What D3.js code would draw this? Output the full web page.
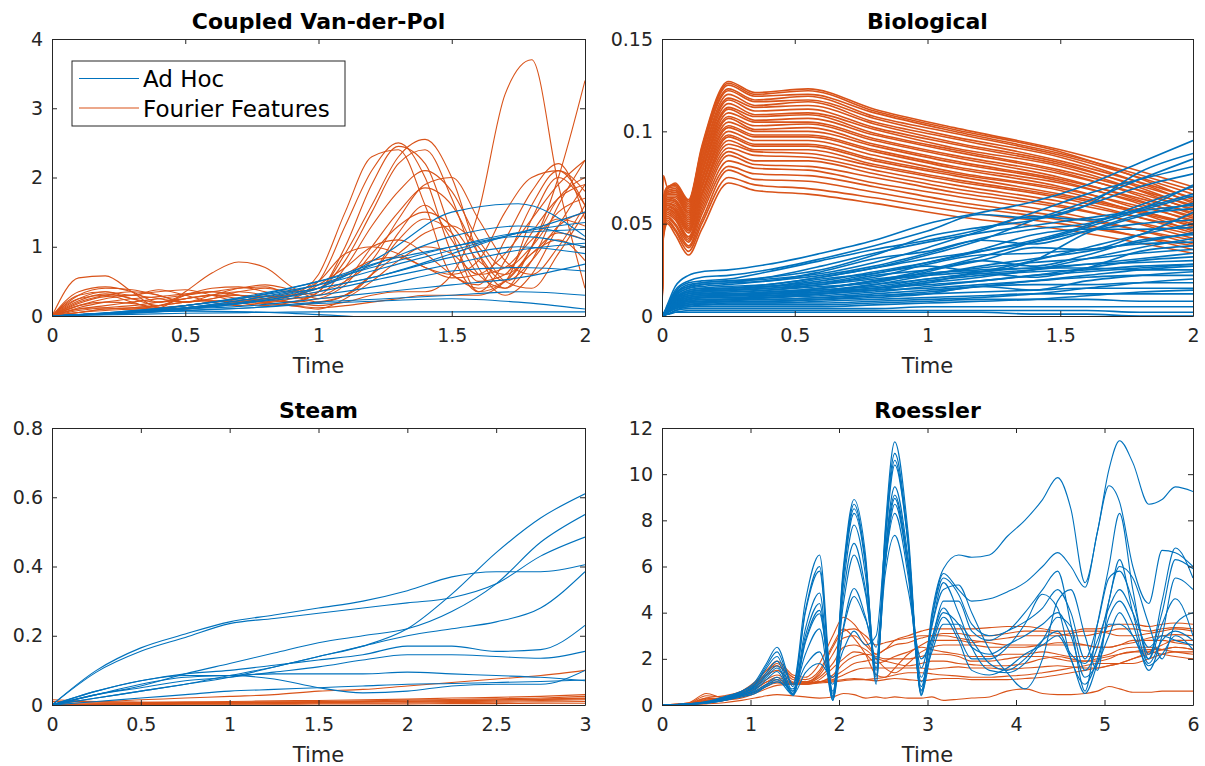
<!DOCTYPE html>
<html>
<head>
<meta charset="utf-8">
<script src="https://cdn.jsdelivr.net/npm/d3@7"></script>
<style>
body { margin: 0; background: #fff; }
text { font-family: "DejaVu Sans", sans-serif; }
</style>
</head>
<body>
<svg id="fig" width="1205" height="766"></svg>
<script>
var blue = "#0072BD", orange = "#D95319", axisColor = "#262626";

// ---------- Coupled Van-der-Pol ----------
var vdpTimeFF = [0,0.1,0.2,0.3,0.4,0.5,0.6,0.7,0.8,0.9,1,1.1,1.2,1.3,1.4,1.5,1.6,1.7,1.8,1.9,2];
var vdpFourier = [
  [0,0.55,0.58,0.35,0.12,0.35,0.62,0.78,0.7,0.42,0.25,0.3,0.6,1.2,1.6,1.1,0.5,0.6,1.2,1.7,1.9],
  [0,0.35,0.42,0.35,0.2,0.25,0.3,0.3,0.25,0.2,0.35,1.0,1.9,2.45,2.2,1.2,0.35,0.5,1.4,2.0,1.6],
  [0,0.3,0.4,0.38,0.3,0.2,0.25,0.3,0.28,0.3,0.5,1.3,2.1,2.5,2.0,0.9,0.35,0.8,1.6,2.1,1.8],
  [0,0.25,0.35,0.3,0.38,0.3,0.2,0.15,0.2,0.3,0.6,1.5,2.3,2.4,1.6,0.6,0.45,1.1,1.8,2.2,1.4],
  [0,0.2,0.3,0.35,0.3,0.2,0.25,0.35,0.4,0.35,0.4,0.9,1.6,2.3,2.55,2.0,0.9,0.4,0.8,1.6,2.25],
  [0,0.15,0.25,0.3,0.35,0.38,0.3,0.2,0.15,0.2,0.35,0.8,1.5,2.2,2.4,1.7,0.7,0.3,0.6,1.3,1.9],
  [0,0.22,0.32,0.25,0.15,0.3,0.4,0.42,0.35,0.25,0.3,0.7,1.3,1.8,2.1,1.8,1.1,0.7,1.0,1.5,1.7],
  [0,0.18,0.28,0.3,0.25,0.2,0.3,0.4,0.45,0.38,0.3,0.5,1.0,1.5,1.85,1.6,0.9,0.5,0.8,1.3,1.5],
  [0,0.12,0.2,0.25,0.28,0.32,0.35,0.3,0.25,0.2,0.25,0.45,0.9,1.3,1.5,1.3,0.8,0.6,0.9,1.2,1.1],
  [0,0.1,0.15,0.2,0.25,0.3,0.35,0.4,0.42,0.3,0.2,0.3,0.6,0.9,1.2,1.3,1.0,0.5,0.4,0.9,1.5],
  [0,0.08,0.12,0.15,0.2,0.25,0.3,0.35,0.3,0.2,0.15,0.2,0.3,0.35,0.35,0.6,1.5,3.2,3.7,1.9,0.4],
  [0,0.05,0.1,0.12,0.15,0.2,0.22,0.2,0.18,0.15,0.12,0.15,0.2,0.25,0.3,0.3,0.3,0.5,1.0,2.0,3.4],
  [0,0.05,0.1,0.12,0.15,0.2,0.22,0.2,0.25,0.35,0.5,0.9,1.0,0.9,0.7,0.6,0.8,1.5,2.0,2.1,1.6],
  [0,0.3,0.35,0.25,0.2,0.3,0.35,0.3,0.2,0.15,0.2,0.3,0.6,1.1,1.4,1.2,0.6,0.4,1.0,1.7,2.0],
  [0,0.25,0.3,0.2,0.1,0.15,0.2,0.25,0.2,0.15,0.1,0.25,0.5,0.8,1.0,0.9,0.6,0.7,1.1,1.4,1.3],
  [0,0.1,0.12,0.1,0.15,0.25,0.3,0.25,0.2,0.25,0.45,0.7,1.0,1.1,0.9,0.6,0.4,0.5,0.9,1.1,0.8],
  [0,0.15,0.2,0.18,0.12,0.1,0.15,0.2,0.25,0.3,0.35,0.5,0.8,1.4,1.9,2.0,1.4,0.8,0.6,1.0,1.6],
  [0,0.05,0.08,0.1,0.12,0.15,0.2,0.22,0.25,0.3,0.4,0.6,0.8,0.85,0.7,0.55,0.6,0.9,1.4,1.9,2.25]
];
var vdpTimeAH = [0,0.25,0.5,0.75,1,1.25,1.5,1.75,2];
var vdpAdHoc = [
  [0,0.04,0.1,0.2,0.4,0.9,1.5,1.62,1.15],
  [0,0.05,0.12,0.25,0.45,0.8,1.15,1.3,1.1],
  [0,0.05,0.15,0.28,0.5,0.75,1.0,1.2,1.25],
  [0,0.06,0.15,0.28,0.45,0.7,0.95,1.15,1.0],
  [0,0.05,0.12,0.22,0.4,0.6,0.85,1.0,0.9],
  [0,0.04,0.1,0.2,0.35,0.55,0.75,0.95,1.05],
  [0,0.05,0.12,0.2,0.3,0.45,0.65,0.7,0.65],
  [0,0.05,0.1,0.15,0.25,0.35,0.45,0.55,0.75],
  [0,0.04,0.08,0.12,0.2,0.25,0.3,0.35,0.3],
  [0,0.03,0.08,0.12,0.18,0.22,0.25,0.2,0.1],
  [0,0.02,0.04,0.05,0.06,0.06,0.06,0.06,0.06],
  [0,0.04,0.07,0.06,0.02,-0.03,-0.05,-0.05,-0.05],
  [0,0.06,0.15,0.3,0.5,0.8,1.0,1.2,1.5],
  [0,0.05,0.12,0.25,0.4,0.6,0.9,1.2,1.35]
];

// ---------- Biological ----------
var bioTimeFF = [0,0.005,0.02,0.05,0.1,0.15,0.25,0.35,0.55,0.8,1.1,1.5,2.0];
var bioFourier = [
  [0,.042,.050,.044,.033,.047,.072,.068,.066,.061,.054,.047,.034],
  [0,.043,.051,.046,.035,.050,.075,.071,.069,.064,.057,.050,.038],
  [0,.045,.052,.047,.037,.052,.079,.074,.073,.067,.060,.052,.036],
  [0,.046,.053,.049,.038,.055,.081,.077,.076,.070,.062,.054,.041],
  [0,.047,.054,.050,.040,.057,.084,.080,.079,.072,.065,.056,.039],
  [0,.048,.055,.052,.041,.059,.087,.082,.081,.075,.067,.059,.044],
  [0,.049,.056,.053,.042,.061,.089,.084,.084,.077,.069,.060,.042],
  [0,.050,.057,.054,.043,.063,.091,.087,.086,.079,.071,.062,.047],
  [0,.051,.058,.055,.045,.065,.093,.089,.088,.081,.073,.064,.045],
  [0,.051,.058,.056,.046,.066,.095,.090,.090,.082,.074,.065,.049],
  [0,.052,.059,.057,.047,.067,.097,.092,.092,.084,.076,.066,.050],
  [0,.053,.060,.057,.047,.069,.098,.093,.093,.085,.077,.068,.046],
  [0,.053,.060,.058,.048,.070,.100,.095,.095,.087,.078,.069,.052],
  [0,.054,.061,.059,.049,.071,.102,.097,.097,.089,.080,.070,.048],
  [0,.055,.061,.060,.050,.073,.103,.098,.098,.090,.081,.072,.054],
  [0,.055,.062,.061,.051,.074,.105,.100,.100,.092,.083,.073,.051],
  [0,.056,.063,.062,.052,.075,.107,.101,.102,.093,.084,.074,.056],
  [0,.057,.063,.062,.053,.077,.108,.103,.104,.095,.086,.075,.053],
  [0,.057,.064,.063,.054,.078,.110,.105,.105,.096,.087,.077,.058],
  [0,.058,.064,.064,.055,.079,.112,.106,.107,.098,.089,.078,.055],
  [0,.059,.065,.065,.056,.081,.113,.108,.109,.099,.090,.079,.060],
  [0,.059,.066,.066,.056,.082,.115,.109,.110,.101,.091,.081,.057],
  [0,.060,.066,.067,.057,.083,.117,.111,.112,.102,.093,.082,.062],
  [0,.060,.067,.068,.058,.085,.118,.113,.114,.104,.094,.083,.059],
  [0,.061,.067,.068,.059,.086,.120,.114,.116,.105,.096,.084,.064],
  [0,.062,.068,.069,.060,.088,.122,.116,.117,.107,.097,.086,.061],
  [0,.062,.069,.070,.061,.089,.123,.117,.119,.108,.099,.087,.066],
  [0,.063,.069,.071,.062,.090,.125,.119,.120,.110,.100,.088,.068],
  [0,.064,.070,.071,.062,.091,.126,.120,.122,.111,.101,.089,.063],
  [0,.076,.070,.072,.063,.092,.127,.121,.123,.112,.102,.090,.070]
];
var bioTimeAH = [0,0.005,0.02,0.05,0.1,0.15,0.25,0.4,0.6,0.8,1.0,1.2,1.4,1.6,1.8,2.0];
var bioAdHoc = [
  [0,.001,.006,.016,.022,.024,.025,.028,.034,.041,.050,.056,.062,.071,.083,.095],
  [0,.001,.005,.014,.019,.021,.022,.025,.031,.038,.046,.055,.053,.060,.078,.088],
  [0,.001,.005,.013,.018,.019,.020,.024,.030,.036,.041,.047,.056,.066,.074,.081],
  [0,.001,.005,.012,.017,.018,.019,.021,.025,.033,.043,.048,.052,.060,.070,.077],
  [0,.001,.004,.012,.016,.018,.019,.020,.023,.029,.037,.046,.054,.052,.058,.071],
  [0,.001,.004,.011,.015,.017,.018,.019,.024,.031,.035,.041,.039,.046,.055,.058],
  [0,.001,.004,.011,.015,.016,.017,.019,.022,.027,.034,.042,.047,.050,.058,.066],
  [0,.001,.004,.010,.014,.015,.016,.017,.021,.026,.031,.035,.040,.046,.050,.052],
  [0,.001,.004,.010,.014,.015,.015,.016,.020,.023,.027,.024,.030,.045,.054,.061],
  [0,.001,.004,.010,.013,.014,.015,.016,.018,.023,.029,.036,.044,.047,.047,.048],
  [0,.001,.003,.009,.013,.014,.014,.015,.018,.021,.028,.033,.034,.036,.039,.040],
  [0,.001,.003,.009,.012,.013,.014,.015,.017,.022,.025,.030,.037,.036,.044,.056],
  [0,.001,.003,.009,.012,.013,.013,.014,.017,.020,.023,.026,.029,.031,.034,.036],
  [0,.001,.003,.008,.011,.012,.013,.014,.016,.018,.024,.030,.027,.033,.041,.044],
  [0,.001,.003,.008,.011,.012,.012,.013,.015,.019,.023,.025,.026,.028,.029,.030],
  [0,.001,.003,.008,.011,.012,.012,.013,.014,.017,.020,.024,.030,.037,.044,.050],
  [0,.001,.003,.008,.010,.011,.012,.012,.014,.016,.020,.023,.025,.028,.031,.034],
  [0,.001,.003,.007,.010,.011,.011,.012,.015,.019,.022,.024,.026,.026,.025,.025],
  [0,.001,.003,.007,.010,.011,.011,.012,.013,.015,.018,.021,.025,.031,.037,.042],
  [0,.001,.003,.007,.009,.010,.011,.011,.013,.015,.017,.019,.022,.024,.026,.028],
  [0,.001,.002,.007,.009,.010,.010,.011,.012,.014,.018,.023,.021,.026,.035,.038],
  [0,.001,.002,.006,.009,.010,.010,.010,.012,.014,.015,.017,.019,.021,.022,.022],
  [0,.001,.002,.006,.008,.009,.009,.010,.011,.013,.016,.019,.022,.026,.030,.032],
  [0,.001,.002,.006,.008,.009,.009,.009,.010,.012,.014,.016,.017,.017,.018,.018],
  [0,.001,.002,.005,.008,.008,.009,.009,.010,.011,.013,.016,.019,.022,.025,.027],
  [0,.001,.002,.005,.007,.008,.008,.008,.009,.011,.012,.013,.014,.015,.015,.015],
  [0,.001,.002,.005,.007,.007,.008,.008,.009,.010,.012,.016,.014,.019,.022,.024],
  [0,.001,.002,.005,.006,.007,.007,.007,.008,.009,.010,.011,.012,.012,.012,.012],
  [0,.001,.002,.004,.006,.006,.007,.007,.007,.008,.009,.010,.012,.015,.018,.020],
  [0,.001,.002,.004,.005,.006,.006,.006,.006,.007,.008,.009,.009,.009,.008,.008],
  [0,.001,.001,.003,.005,.005,.005,.005,.005,.006,.007,.008,.009,.011,.013,.014],
  [0,.001,.001,.003,.004,.004,.004,.004,.004,.004,.005,.005,.005,.005,.005,.005],
  [0,.001,.001,.002,.003,.003,.003,.003,.003,.003,.003,.003,.003,.003,.002,.002],
  [0,.000,.001,.002,.002,.002,.002,.002,.002,.002,.002,.002,.001,.001,.000,.000],
  [0,.001,.004,.012,.016,.017,.018,.021,.027,.034,.040,.045,.049,.053,.057,.060],
  [0,.001,.003,.010,.013,.014,.015,.017,.021,.026,.033,.041,.052,.062,.074,.085],
  [0,.001,.003,.009,.012,.013,.014,.016,.019,.024,.029,.035,.041,.049,.060,.070],
  [0,.001,.002,.006,.009,.010,.011,.013,.015,.019,.025,.032,.040,.048,.057,.065],
  [0,.001,.002,.005,.007,.008,.009,.011,.013,.017,.022,.027,.031,.035,.040,.045],
  [0,.001,.002,.004,.006,.007,.008,.010,.012,.015,.019,.022,.024,.025,.027,.028]
];

// ---------- Steam ----------
var steamTime = [0,0.25,0.5,0.75,1,1.25,1.5,1.75,2,2.25,2.5,2.75,3];
var steamAdHoc = [
  [0,0.1,0.165,0.205,0.24,0.26,0.28,0.3,0.33,0.37,0.385,0.385,0.405],
  [0,0.095,0.155,0.195,0.235,0.25,0.265,0.28,0.295,0.31,0.35,0.43,0.485],
  [0,0.02,0.04,0.06,0.085,0.11,0.14,0.17,0.22,0.32,0.44,0.54,0.61],
  [0,0.03,0.055,0.09,0.12,0.15,0.18,0.2,0.22,0.27,0.35,0.47,0.55],
  [0,0.02,0.04,0.06,0.08,0.11,0.14,0.17,0.2,0.22,0.24,0.28,0.385],
  [0,0.04,0.07,0.09,0.1,0.115,0.13,0.145,0.17,0.17,0.155,0.16,0.23],
  [0,0.03,0.05,0.07,0.08,0.095,0.11,0.13,0.145,0.145,0.14,0.135,0.155],
  [0,0.04,0.07,0.085,0.085,0.075,0.05,0.035,0.04,0.055,0.06,0.06,0.1],
  [0,0.03,0.06,0.08,0.085,0.09,0.09,0.09,0.095,0.09,0.085,0.08,0.07],
  [0,0.01,0.02,0.03,0.04,0.045,0.05,0.055,0.06,0.062,0.065,0.068,0.072]
];
var steamFourier = [
  [0.01,0.01,0.015,0.02,0.025,0.03,0.04,0.045,0.055,0.065,0.075,0.085,0.1],
  [0.01,0.008,0.008,0.009,0.01,0.012,0.013,0.015,0.017,0.02,0.022,0.025,0.03],
  [0.005,0.005,0.006,0.007,0.008,0.009,0.01,0.012,0.014,0.016,0.018,0.02,0.025],
  [0,0.003,0.004,0.005,0.006,0.007,0.008,0.009,0.011,0.013,0.015,0.017,0.02],
  [0,0.002,0.003,0.004,0.005,0.006,0.007,0.008,0.009,0.01,0.011,0.013,0.015],
  [0,0.002,0.002,0.003,0.003,0.004,0.005,0.005,0.006,0.007,0.008,0.009,0.01],
  [0,0.001,0.001,0.002,0.002,0.002,0.003,0.003,0.003,0.004,0.004,0.005,0.005],
  [0.015,0.01,0.008,0.007,0.007,0.008,0.009,0.01,0.011,0.012,0.014,0.016,0.018]
];

// ---------- Roessler ----------
var rosTime = [0,0.3,0.5,0.7,0.9,1.05,1.18,1.3,1.48,1.62,1.78,1.93,2.05,2.17,2.3,2.42,2.52,2.63,2.78,2.93,
  3.05,3.18,3.35,3.5,3.7,3.9,4.1,4.3,4.47,4.62,4.78,4.92,5.05,5.17,5.32,5.5,5.65,5.8,6.0];
var rosAdHoc = [
  [0,0.05,0.15,0.35,0.6,1.0,1.8, 2.5,0.9,4.5,6.5,0.5,6.0,8.9,6.5,1.0,7.5,11.4,7.5,0.5, 4.0,5.9,6.5,6.4,6.5,7.3,8.0,8.9,9.85,8.5,5.3,7.5,10.2,11.45,10.5,8.7,8.9,9.45,9.25],
  [0,0.05,0.12,0.3,0.55,0.85,1.6, 2.1,0.6,4.0,5.8,0.3,5.7,8.5,6.2,1.5,7.3,10.9,7.2,0.4, 3.8,5.7,5.0,4.5,4.6,4.9,5.3,6.0,6.6,6.0,5.1,7.5,9.5,8.8,6.0,4.4,6.7,6.6,6.0],
  [0,0.04,0.1,0.3,0.5,0.8,1.4, 1.9,0.5,3.3,4.85,0.2,5.5,8.3,6.0,0.9,7.0,10.6,7.0,0.6, 3.7,5.5,4.8,3.5,3.0,3.2,4.0,5.0,5.8,3.5,0.6,3.5,6.0,8.3,5.0,2.0,4.5,6.8,5.5],
  [0,0.04,0.12,0.25,0.45,0.7,1.3, 1.7,0.45,2.8,4.1,0.4,5.2,7.8,5.6,1.2,6.5,9.45,6.4,0.8, 3.4,5.0,5.2,4.0,2.4,1.4,0.7,2.0,4.5,5.0,3.0,1.5,4.5,6.0,5.5,3.5,2.0,3.5,4.0],
  [0,0.03,0.1,0.25,0.45,0.65,1.1, 1.45,0.4,2.7,3.95,0.6,4.4,6.5,4.8,1.8,6.5,9.1,6.2,1.2, 2.9,4.2,3.0,2.0,2.0,2.5,3.5,4.8,4.2,2.0,0.9,2.0,3.8,4.5,3.5,1.5,3.0,5.5,5.0],
  [0,0.03,0.1,0.2,0.4,0.6,0.9, 1.2,0.6,2.2,3.3,0.25,3.4,5.05,3.8,2.0,6.2,8.95,6.0,1.6, 3.5,5.3,4.0,2.5,1.5,1.4,1.8,2.8,3.8,3.4,1.5,2.5,4.5,6.3,4.0,1.8,2.8,3.2,2.8],
  [0,0.03,0.08,0.2,0.35,0.5,0.8, 1.0,0.7,1.7,2.3,0.9,3.3,4.7,3.7,2.5,6.1,8.7,5.9,0.65, 2.7,4.0,3.5,2.5,2.2,2.6,3.0,3.5,4.0,3.0,1.2,1.8,3.0,4.0,3.0,2.0,3.5,4.6,3.0],
  [0,0.05,0.15,0.35,0.6,0.9,1.7, 2.3,0.8,4.1,6.0,0.35,5.8,8.7,6.2,1.3,6.0,8.3,5.6,1.0, 2.3,3.5,3.5,2.8,1.8,1.5,2.0,2.8,3.2,2.2,1.8,2.8,4.2,5.0,4.0,2.5,3.0,2.8,2.6],
  [0,0.04,0.12,0.3,0.5,0.75,1.2, 1.6,0.5,3.0,4.4,0.2,4.8,7.0,5.0,1.6,5.6,7.35,5.0,2.0, 2.9,4.5,4.5,3.2,2.8,3.2,3.6,4.2,5.0,4.0,2.0,3.5,5.5,5.8,4.5,2.2,4.0,6.3,5.9],
  [0,0.03,0.08,0.2,0.4,0.55,0.85, 1.1,0.45,1.4,1.8,1.2,2.4,3.2,2.6,3.0,7.0,10.4,7.0,0.45, 2.5,3.8,2.8,1.5,1.3,1.6,2.2,2.6,3.0,2.0,0.5,1.8,3.5,3.5,3.0,1.7,2.2,3.0,2.4]
];
var rosFourier = [
  [0,0.05,0.25,0.3,0.6,1.0,1.5, 1.9,1.3,1.2,1.8,3.0,3.8,3.5,2.8,2.2,2.4,2.8,3.0,3.2, 3.3,3.3,3.3,3.3,3.35,3.4,3.4,3.3,3.2,3.2,3.3,3.3,3.4,3.5,3.5,3.4,3.5,3.55,3.5],
  [0,0.1,0.5,0.3,0.5,0.9,1.4, 1.8,1.2,1.0,1.4,2.5,3.2,3.3,3.0,2.6,2.7,2.8,2.9,3.0, 3.0,3.1,3.1,3.0,3.0,3.1,3.2,3.2,3.1,3.0,3.0,3.1,3.2,3.3,3.3,3.2,3.3,3.35,3.3],
  [0,0.08,0.4,0.35,0.5,0.8,1.3, 1.7,1.1,1.0,1.3,2.2,2.9,3.0,2.6,2.2,2.4,2.6,2.7,2.9, 3.0,3.0,2.9,2.8,2.7,2.6,2.6,2.6,2.7,2.7,2.6,2.5,2.5,2.6,2.7,2.9,3.0,3.05,3.0],
  [0,0.05,0.3,0.4,0.6,0.9,1.3, 1.5,1.0,0.95,1.2,1.8,2.5,2.6,2.4,2.0,1.6,1.4,1.8,2.3, 2.5,2.6,2.6,2.6,2.5,2.5,2.5,2.6,2.6,2.6,2.6,2.5,2.5,2.6,2.8,2.8,2.8,2.7,2.6],
  [0,0.05,0.2,0.3,0.5,0.8,1.1, 1.3,0.95,0.9,1.1,1.6,2.0,2.3,2.2,1.8,1.9,2.1,2.3,2.5, 2.4,2.3,2.2,2.1,2.1,2.2,2.2,2.3,2.2,2.1,2.1,2.1,2.2,2.4,2.5,2.5,2.4,2.3,2.2],
  [0,0.04,0.2,0.25,0.45,0.7,1.0, 1.2,0.95,0.95,1.0,1.3,1.8,2.1,2.2,2.1,2.0,2.0,2.0,2.1, 2.2,2.2,2.1,1.9,1.9,2.0,2.1,2.1,2.0,1.9,1.9,2.0,2.1,2.2,2.3,2.4,2.4,2.5,2.4],
  [0,0.03,0.15,0.2,0.4,0.7,1.0, 1.1,0.9,0.9,1.0,1.2,1.5,1.8,1.9,2.0,1.9,1.8,1.7,1.8, 1.9,1.9,1.8,1.75,1.7,1.7,1.8,2.0,2.1,2.0,1.9,1.9,2.0,2.2,2.3,2.3,2.2,2.1,2.0],
  [0,0.03,0.15,0.25,0.4,0.6,0.9, 1.0,0.95,0.95,1.0,1.1,1.3,1.5,1.6,1.6,1.6,1.6,1.6,1.6, 1.55,1.6,1.65,1.6,1.6,1.55,1.6,1.65,1.7,1.65,1.6,1.6,1.7,1.8,2.0,2.3,2.6,2.8,2.8],
  [0,0.02,0.1,0.2,0.35,0.55,0.8, 0.95,0.9,0.9,0.95,1.0,1.05,1.1,1.1,1.15,1.2,1.3,1.4,1.4, 1.35,1.3,1.25,1.2,1.2,1.25,1.3,1.4,1.5,1.6,1.7,1.8,1.8,1.8,1.8,2.0,2.2,2.3,2.3],
  [0,0.02,0.1,0.2,0.3,0.5,0.7, 0.85,0.9,0.95,1.0,1.05,1.1,1.15,1.1,1.05,1.1,1.15,1.1,1.05, 1.1,1.15,1.15,1.1,1.1,1.1,1.15,1.2,1.3,1.4,1.5,1.6,1.7,1.8,2.0,2.2,2.4,2.5,2.4],
  [0,0.02,0.05,0.1,0.2,0.3,0.4, 0.45,0.4,0.35,0.3,0.35,0.5,0.45,0.3,0.35,0.3,0.35,0.3,0.3, 0.35,0.2,0.25,0.3,0.35,0.6,0.7,0.5,0.45,0.45,0.5,0.6,0.8,0.7,0.55,0.55,0.6,0.6,0.6],
  [0,0.06,0.3,0.25,0.55,0.95,1.5, 1.7,1.2,1.1,1.5,2.6,3.3,2.9,2.2,1.3,1.2,1.6,2.2,2.6, 2.8,2.8,2.8,2.7,2.8,2.9,3.0,3.0,3.0,3.1,3.2,3.2,3.1,3.0,3.0,3.1,3.2,3.3,3.2]
];

var svg = d3.select("#fig");
svg.append("rect").attr("width", 1205).attr("height", 766).attr("fill", "#fff");

function drawPanel(p) {
  var x = d3.scaleLinear().domain(p.xdom).range([p.left, p.right]);
  var y = d3.scaleLinear().domain(p.ydom).range([p.bottom, p.top]);
  var lw = p.lineWidth || 1.1;

  svg.append("clipPath").attr("id", "clip" + p.id)
    .append("rect")
    .attr("x", p.left).attr("y", p.top)
    .attr("width", p.right - p.left).attr("height", p.bottom - p.top);

  var g = svg.append("g").attr("clip-path", "url(#clip" + p.id + ")");

  function addLines(time, lines, color) {
    var line = d3.line()
      .x(function(d, i) { return x(time[i]); })
      .y(function(d) { return y(d); })
      .curve(d3.curveMonotoneX);
    g.append("g").selectAll("path")
      .data(lines)
      .enter()
      .append("path")
      .attr("d", line)
      .attr("fill", "none")
      .attr("stroke", color)
      .attr("stroke-width", lw);
  }
  addLines(p.ffTime, p.ff, orange);
  addLines(p.ahTime, p.ah, blue);

  // axes with inward ticks on all four sides (box on)
  var fmt = function(d) { return String(d); };
  var axB = svg.append("g").attr("transform", "translate(0," + p.bottom + ")")
    .call(d3.axisBottom(x).tickValues(p.xticks).tickFormat(fmt).tickSizeInner(-5).tickSizeOuter(0).tickPadding(13));
  var axL = svg.append("g").attr("transform", "translate(" + p.left + ",0)")
    .call(d3.axisLeft(y).tickValues(p.yticks).tickFormat(fmt).tickSizeInner(-5).tickSizeOuter(0).tickPadding(9));
  var axT = svg.append("g").attr("transform", "translate(0," + p.top + ")")
    .call(d3.axisTop(x).tickValues(p.xticks).tickFormat("").tickSizeInner(-5).tickSizeOuter(0));
  var axR = svg.append("g").attr("transform", "translate(" + p.right + ",0)")
    .call(d3.axisRight(y).tickValues(p.yticks).tickFormat("").tickSizeInner(-5).tickSizeOuter(0));

  [axB, axL, axT, axR].forEach(function(a) {
    a.attr("font-family", "DejaVu Sans").attr("font-size", 19);
    a.selectAll("path, line").attr("stroke", axisColor).attr("stroke-width", 1);
    a.selectAll("text").attr("fill", axisColor);
  });

  svg.append("text")
    .attr("x", (p.left + p.right) / 2)
    .attr("y", p.top - 10)
    .attr("text-anchor", "middle")
    .attr("font-size", 22)
    .attr("font-weight", "bold")
    .attr("fill", "#000")
    .text(p.title);

  svg.append("text")
    .attr("x", (p.left + p.right) / 2)
    .attr("y", p.bottom + 57)
    .attr("text-anchor", "middle")
    .attr("font-size", 21)
    .attr("fill", axisColor)
    .text("Time");
}

drawPanel({id: "vdp", title: "Coupled Van-der-Pol", left: 52, right: 585, top: 39, bottom: 316,
  xdom: [0, 2], ydom: [0, 4], xticks: [0, 0.5, 1, 1.5, 2], yticks: [0, 1, 2, 3, 4],
  ffTime: vdpTimeFF, ff: vdpFourier, ahTime: vdpTimeAH, ah: vdpAdHoc});

drawPanel({id: "bio", title: "Biological", left: 662, right: 1193, top: 39, bottom: 316,
  xdom: [0, 2], ydom: [0, 0.15], xticks: [0, 0.5, 1, 1.5, 2], yticks: [0, 0.05, 0.1, 0.15],
  ffTime: bioTimeFF, ff: bioFourier, ahTime: bioTimeAH, ah: bioAdHoc, lineWidth: 1.6});

drawPanel({id: "steam", title: "Steam", left: 52, right: 585, top: 428, bottom: 705,
  xdom: [0, 3], ydom: [0, 0.8], xticks: [0, 0.5, 1, 1.5, 2, 2.5, 3], yticks: [0, 0.2, 0.4, 0.6, 0.8],
  ffTime: steamTime, ff: steamFourier, ahTime: steamTime, ah: steamAdHoc});

drawPanel({id: "ros", title: "Roessler", left: 662, right: 1193, top: 428, bottom: 705,
  xdom: [0, 6], ydom: [0, 12], xticks: [0, 1, 2, 3, 4, 5, 6], yticks: [0, 2, 4, 6, 8, 10, 12],
  ffTime: rosTime, ff: rosFourier, ahTime: rosTime, ah: rosAdHoc});

// legend in the first panel
var legend = svg.append("g");
legend.append("rect")
  .attr("x", 72).attr("y", 61).attr("width", 273).attr("height", 65)
  .attr("fill", "#fff").attr("stroke", axisColor).attr("stroke-width", 1);
var legendItems = [{label: "Ad Hoc", color: blue, y: 78.5}, {label: "Fourier Features", color: orange, y: 108}];
legendItems.forEach(function(it) {
  legend.append("line")
    .attr("x1", 79).attr("x2", 139).attr("y1", it.y).attr("y2", it.y)
    .attr("stroke", it.color).attr("stroke-width", 1.1);
  legend.append("text")
    .attr("x", 143).attr("y", it.y + 8.5)
    .attr("font-size", 23)
    .attr("fill", "#000")
    .text(it.label);
});
</script>
</body>
</html>
